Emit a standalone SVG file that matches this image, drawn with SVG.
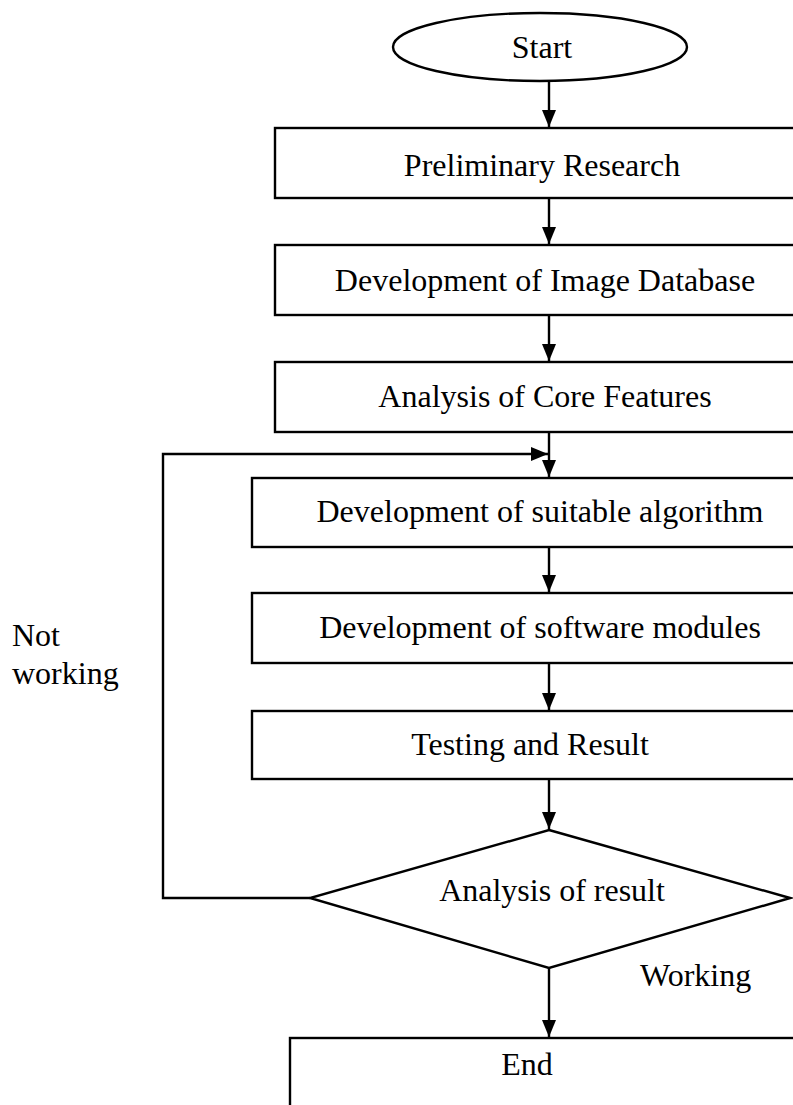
<svg xmlns="http://www.w3.org/2000/svg" width="793" height="1105" viewBox="0 0 793 1105">
  <style>
    .shape { fill: #fff; stroke: #000; stroke-width: 2.4; }
    .line { fill: none; stroke: #000; stroke-width: 2.4; }
    .label { font-family: "Liberation Serif", "Times New Roman", serif; font-size: 32px; fill: #000; text-anchor: middle; }
    .side { font-family: "Liberation Serif", "Times New Roman", serif; font-size: 32px; fill: #000; }
  </style>
  <defs>
    <marker id="arrow" markerWidth="17" markerHeight="14" refX="17" refY="7" orient="auto" markerUnits="userSpaceOnUse">
      <path d="M0,0 L17,7 L0,14 Z" fill="#000"/>
    </marker>
  </defs>

  <rect width="793" height="1105" fill="#fff"/>

  <!-- connectors -->
  <g id="connectors">
    <line class="line" x1="549" y1="81" x2="549" y2="127" marker-end="url(#arrow)"/>
    <line class="line" x1="549" y1="198" x2="549" y2="244" marker-end="url(#arrow)"/>
    <line class="line" x1="549" y1="315" x2="549" y2="361" marker-end="url(#arrow)"/>
    <line class="line" x1="549" y1="432" x2="549" y2="477" marker-end="url(#arrow)"/>
    <line class="line" x1="549" y1="547" x2="549" y2="592" marker-end="url(#arrow)"/>
    <line class="line" x1="549" y1="663" x2="549" y2="710" marker-end="url(#arrow)"/>
    <line class="line" x1="549" y1="779" x2="549" y2="829" marker-end="url(#arrow)"/>
    <line class="line" x1="549" y1="968" x2="549" y2="1037" marker-end="url(#arrow)"/>
    <!-- not working loop back -->
    <polyline class="line" points="310,898 163,898 163,454 548,454" marker-end="url(#arrow)"/>
  </g>

  <g id="start">
    <ellipse class="shape" cx="540" cy="47" rx="147" ry="34"/>
    <text class="label" x="542" y="58">Start</text>
  </g>

  <g id="preliminary-research">
    <rect class="shape" x="275" y="128" width="560" height="70"/>
    <text class="label" x="542" y="176">Preliminary Research</text>
  </g>

  <g id="image-database">
    <rect class="shape" x="275" y="245" width="560" height="70"/>
    <text class="label" x="545" y="291">Development of Image Database</text>
  </g>

  <g id="core-features">
    <rect class="shape" x="275" y="362" width="560" height="70"/>
    <text class="label" x="545" y="407">Analysis of Core Features</text>
  </g>

  <g id="suitable-algorithm">
    <rect class="shape" x="252" y="478" width="580" height="69"/>
    <text class="label" x="540" y="522">Development of suitable algorithm</text>
  </g>

  <g id="software-modules">
    <rect class="shape" x="252" y="593" width="580" height="70"/>
    <text class="label" x="540" y="638">Development of software modules</text>
  </g>

  <g id="testing">
    <rect class="shape" x="252" y="711" width="580" height="68"/>
    <text class="label" x="530" y="755">Testing and Result</text>
  </g>

  <g id="analysis-of-result">
    <polygon class="shape" points="549,830 790,898 549,968 310,898"/>
    <text class="label" x="552" y="901">Analysis of result</text>
  </g>

  <g id="end">
    <rect class="shape" x="290" y="1038" width="540" height="100"/>
    <text class="label" x="527" y="1075">End</text>
  </g>

  <g id="labels">
    <text class="side" x="12" y="646">Not</text>
    <text class="side" x="12" y="684">working</text>
    <text class="side" x="640" y="986">Working</text>
  </g>
</svg>
